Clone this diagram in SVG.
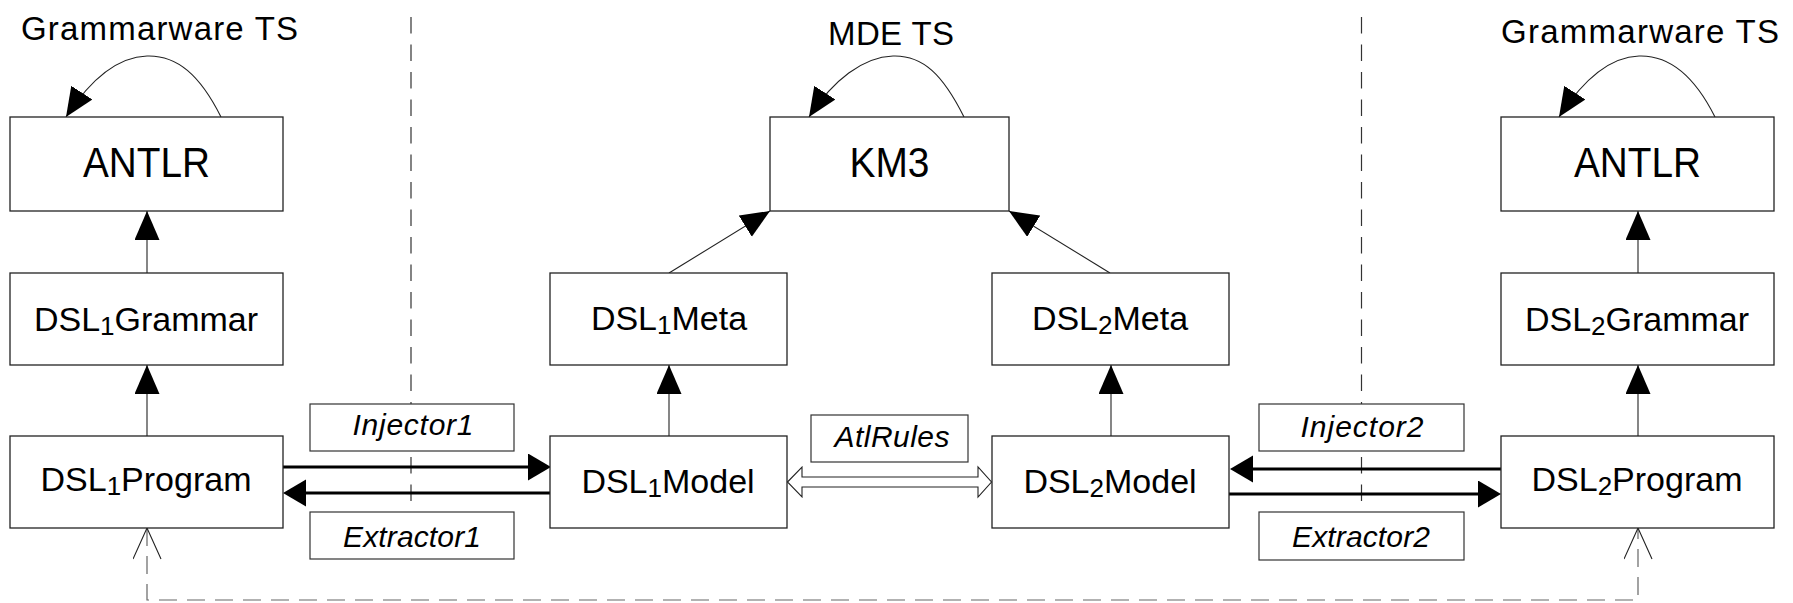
<svg xmlns="http://www.w3.org/2000/svg" width="1793" height="603" viewBox="0 0 1793 603">
  <style>
    .box { fill: #fff; stroke: #222; stroke-width: 1.3; }
    .lbl { fill: #fff; stroke: #333; stroke-width: 1.2; }
    .t { font-family: "Liberation Sans", Arial, sans-serif; fill: #000; text-anchor: middle; }
    .big { font-size: 43px; }
    .node { font-size: 34px; }
    .sub { font-size: 26px; }
    .head { font-size: 33px; }
    .it { font-size: 30px; font-style: italic; }
    .thin { fill: none; stroke: #222; stroke-width: 1.1; }
    .thick { fill: none; stroke: #000; stroke-width: 3.2; }
    .sep { fill: none; stroke: #333; stroke-width: 1.2; stroke-dasharray: 16.5 11; }
    .trace { fill: none; stroke: #666; stroke-width: 1.2; stroke-dasharray: 18 10; }
  </style>
  <defs>
    <!-- filled triangle head for thin arrows (tip at the path end) -->
    <marker id="tri" markerUnits="userSpaceOnUse" markerWidth="30" markerHeight="26" viewBox="0 0 30 26" refX="29" refY="12.5" orient="auto">
      <path d="M0,0 L29,12.5 L0,25 Z" fill="#000"/>
    </marker>
    <!-- filled head for thick arrows (tip 18px beyond the path end) -->
    <marker id="fat" markerUnits="userSpaceOnUse" markerWidth="24" markerHeight="28" viewBox="0 0 24 28" refX="5" refY="13.5" orient="auto">
      <path d="M0,0 L23,13.5 L0,27 Z" fill="#000"/>
    </marker>
    <!-- open V head for the dashed trace -->
    <marker id="vee" markerUnits="userSpaceOnUse" markerWidth="33" markerHeight="30" viewBox="0 0 33 30" refX="32" refY="14.5" orient="auto-start-reverse">
      <path d="M1,0.5 L32,14.5 L1,28.5" fill="none" stroke="#222" stroke-width="1.1"/>
    </marker>
  </defs>

  <!-- technical space separators -->
  <g id="separators">
    <path class="sep" d="M411,17 V503"/>
    <path class="sep" d="M1361.5,17 V503"/>
  </g>

  <!-- headings -->
  <g id="headings">
    <text class="t head" x="159.5" y="40" textLength="277" lengthAdjust="spacing">Grammarware TS</text>
    <text class="t head" x="891" y="45" textLength="126" lengthAdjust="spacing">MDE TS</text>
    <text class="t head" x="1640" y="43" textLength="278" lengthAdjust="spacing">Grammarware TS</text>
  </g>

  <g id="connectors">
    <!-- self conformance loops -->
    <path class="thin" marker-end="url(#tri)" d="M221,117 C200,75 177,55 147,56 C117,57 90,80 66,117"/>
    <path class="thin" marker-end="url(#tri)" d="M964,117 C943,75 923,55 893,56 C863,57 833,80 809,117"/>
    <path class="thin" marker-end="url(#tri)" d="M1715,117 C1694,75 1669,55 1639,56 C1609,57 1583,80 1559,117"/>
    <!-- conformance arrows -->
    <path class="thin" marker-end="url(#tri)" d="M147,273 V211"/>
    <path class="thin" marker-end="url(#tri)" d="M147,436 V365"/>
    <path class="thin" marker-end="url(#tri)" d="M1638,273 V211"/>
    <path class="thin" marker-end="url(#tri)" d="M1638,436 V365"/>
    <path class="thin" marker-end="url(#tri)" d="M669,436 V365"/>
    <path class="thin" marker-end="url(#tri)" d="M1111,436 V365"/>
    <path class="thin" marker-end="url(#tri)" d="M669,273 L770,211"/>
    <path class="thin" marker-end="url(#tri)" d="M1110,273 L1009,211"/>
    <!-- injectors / extractors -->
    <path class="thick" marker-end="url(#fat)" d="M283,467 H533"/>
    <path class="thick" marker-end="url(#fat)" d="M550,493 H301"/>
    <path class="thick" marker-end="url(#fat)" d="M1501,469 H1248"/>
    <path class="thick" marker-end="url(#fat)" d="M1229,494 H1483"/>
    <!-- model transformation -->
    <path d="M787.5,482 L802,467 V477 H978 V467 L991.5,482 L978,497 V487 H802 V497 Z" fill="#fff" stroke="#222" stroke-width="1.1"/>
    <!-- end-to-end trace -->
    <path class="trace" marker-start="url(#vee)" marker-end="url(#vee)" d="M147,528 V600 H1638 V528"/>
  </g>

  <g id="antlr1">
    <rect class="box" x="10" y="117" width="273" height="94"/>
    <text class="t big" x="146.5" y="177" textLength="127" lengthAdjust="spacingAndGlyphs">ANTLR</text>
  </g>
  <g id="dsl1grammar">
    <rect class="box" x="10" y="273" width="273" height="92"/>
    <text class="t node" x="146" y="331">DSL<tspan class="sub" dy="4">1</tspan><tspan dy="-4">Grammar</tspan></text>
  </g>
  <g id="dsl1program">
    <rect class="box" x="10" y="436" width="273" height="92"/>
    <text class="t node" x="146" y="491">DSL<tspan class="sub" dy="4">1</tspan><tspan dy="-4">Program</tspan></text>
  </g>

  <g id="km3">
    <rect class="box" x="770" y="117" width="239" height="94"/>
    <text class="t big" x="889.5" y="177" textLength="80" lengthAdjust="spacingAndGlyphs">KM3</text>
  </g>
  <g id="dsl1meta">
    <rect class="box" x="550" y="273" width="237" height="92"/>
    <text class="t node" x="669" y="330">DSL<tspan class="sub" dy="4">1</tspan><tspan dy="-4">Meta</tspan></text>
  </g>
  <g id="dsl1model">
    <rect class="box" x="550" y="436" width="237" height="92"/>
    <text class="t node" x="668" y="493">DSL<tspan class="sub" dy="4">1</tspan><tspan dy="-4">Model</tspan></text>
  </g>
  <g id="dsl2meta">
    <rect class="box" x="992" y="273" width="237" height="92"/>
    <text class="t node" x="1110" y="330">DSL<tspan class="sub" dy="4">2</tspan><tspan dy="-4">Meta</tspan></text>
  </g>
  <g id="dsl2model">
    <rect class="box" x="992" y="436" width="237" height="92"/>
    <text class="t node" x="1110" y="493">DSL<tspan class="sub" dy="4">2</tspan><tspan dy="-4">Model</tspan></text>
  </g>

  <g id="antlr2">
    <rect class="box" x="1501" y="117" width="273" height="94"/>
    <text class="t big" x="1637.5" y="177" textLength="127" lengthAdjust="spacingAndGlyphs">ANTLR</text>
  </g>
  <g id="dsl2grammar">
    <rect class="box" x="1501" y="273" width="273" height="92"/>
    <text class="t node" x="1637" y="331">DSL<tspan class="sub" dy="4">2</tspan><tspan dy="-4">Grammar</tspan></text>
  </g>
  <g id="dsl2program">
    <rect class="box" x="1501" y="436" width="273" height="92"/>
    <text class="t node" x="1637" y="491">DSL<tspan class="sub" dy="4">2</tspan><tspan dy="-4">Program</tspan></text>
  </g>

  <g id="injector1">
    <rect class="lbl" x="310" y="404" width="204" height="47"/>
    <text class="t it" x="413" y="435" textLength="121" lengthAdjust="spacing">Injector1</text>
  </g>
  <g id="extractor1">
    <rect class="lbl" x="310" y="512" width="204" height="47"/>
    <text class="t it" x="412" y="547" textLength="138" lengthAdjust="spacing">Extractor1</text>
  </g>
  <g id="atlrules">
    <rect class="lbl" x="811" y="415" width="157" height="47"/>
    <text class="t it" x="892" y="447" textLength="115" lengthAdjust="spacing">AtlRules</text>
  </g>
  <g id="injector2">
    <rect class="lbl" x="1259" y="404" width="205" height="47"/>
    <text class="t it" x="1362" y="437" textLength="123" lengthAdjust="spacing">Injector2</text>
  </g>
  <g id="extractor2">
    <rect class="lbl" x="1259" y="512" width="205" height="48"/>
    <text class="t it" x="1361" y="547" textLength="138" lengthAdjust="spacing">Extractor2</text>
  </g>
</svg>
